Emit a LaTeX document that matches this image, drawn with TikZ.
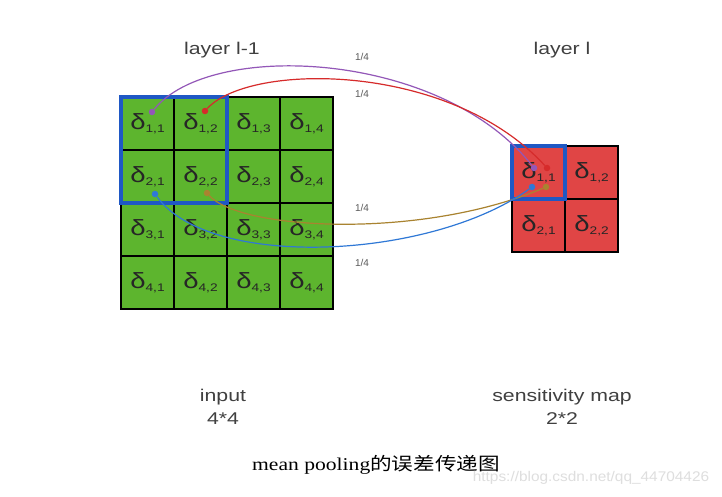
\documentclass[tikz,border=0pt]{standalone}
\usepackage{fontspec}
\setmainfont{Liberation Sans}
\newfontfamily\capfont{Liberation Serif}
\newfontfamily\cjk{Noto Sans CJK SC}
\usetikzlibrary{positioning}
\definecolor{cellgreen}{HTML}{5DB52E}
\definecolor{cellred}{HTML}{E04545}
\definecolor{poolblue}{HTML}{1F58C4}
\definecolor{wpurple}{HTML}{9357B8}
\definecolor{wred}{HTML}{D62B2B}
\definecolor{wbrown}{HTML}{A98330}
\definecolor{wblue}{HTML}{2F78D6}
\newcommand{\wide}[1]{\scalebox{1.25}[1]{#1}}
\newcommand{\cellsym}[2]{\wide{δ\raisebox{-2.5pt}{\fontsize{11}{11}\selectfont #1,#2}}}
\tikzstyle{gcell}=[draw=black, line width=2.8pt, fill=cellgreen, minimum size=53pt, inner sep=0pt, outer sep=0pt, font=\fontsize{22}{22}\selectfont, text=black!85]
\tikzstyle{rcell}=[gcell, fill=cellred]
\tikzstyle{poolbox}=[draw=poolblue, line width=3.2pt]
\tikzstyle{dot}=[circle, inner sep=0pt, minimum size=6.5pt]
\tikzstyle{wire}=[line width=1.2pt]
\tikzstyle{lab}=[font=\fontsize{17}{23}\selectfont, text=black!75, align=center]
\tikzstyle{frac}=[font=\fontsize{10}{10}\selectfont, text=black!65]

\begin{document}
\begin{tikzpicture}[x=1pt, y=-1pt]
        \useasboundingbox[fill=white] (0,0) rectangle (722,497);
        % layer l-1
        \foreach \r in {1,...,4}
          \foreach \c in {1,...,4}
            \node at ({94.5+53*\c},{70.5+53*\r}) [gcell] (i\r\c) {\cellsym{\r}{\c}};
        \draw[poolbox] (i11.north west) rectangle (i22.south east);
        % layer l
        \foreach \r in {1,2}
          \foreach \c in {1,2}
            \node at ({485.5+53*\c},{119.5+53*\r}) [rcell] (s\r\c) {\cellsym{\r}{\c}};
        \draw[poolbox] (s11.north west) rectangle (s11.south east);
        %
        \node at (222,50) [lab] (toplab) {\wide{layer l-1}};
        \node at (562,50) [lab] (botlab) {\wide{layer l}};
        \node at (223,407) [lab] (inlab) {\wide{input}\\\wide{4*4}};
        \node at (562,407) [lab] (maplab) {\wide{sensitivity map}\\\wide{2*2}};
        % dots
        \node at (152,112) [dot, fill=wpurple] (from11) {};
        \node at (205,111) [dot, fill=wred] (from12) {};
        \node at (155,194) [dot, fill=wblue] (from21) {};
        \node at (207,193) [dot, fill=wbrown] (from22) {};
        \node at (534,168) [dot, fill=wpurple] (to11) {};
        \node at (547,168) [dot, fill=wred] (to12) {};
        \node at (532,187) [dot, fill=wblue] (to21) {};
        \node at (546,187) [dot, fill=wbrown] (to22) {};
        % weights
        \draw[wire, wpurple] (from11) .. controls (210,40) and (440,50) .. (to11);
        \draw[wire, wred] (from12) .. controls (250,62) and (450,62) .. (to12);
        \draw[wire, wbrown] (from22) .. controls (240,230) and (420,240) .. (to22);
        \draw[wire, wblue] (from21) .. controls (210,270) and (430,260) .. (to21);
        \node at (362,57) [frac] (w1) {1/4};
        \node at (362,94) [frac] (w2) {1/4};
        \node at (362,208) [frac] (w3) {1/4};
        \node at (362,263) [frac] (w4) {1/4};
        %
        \node at (376,465) [font=\fontsize{18}{18}\selectfont] (cap) {\scalebox{1.2}[1]{\capfont mean pooling\cjk 的误差传递图}};
        \node at (591,478) [font=\fontsize{14}{14}\selectfont, text=black!13] (mark) {\scalebox{1.1}[1]{https://blog.csdn.net/qq\_44704426}};
      \end{tikzpicture}
\end{document}
